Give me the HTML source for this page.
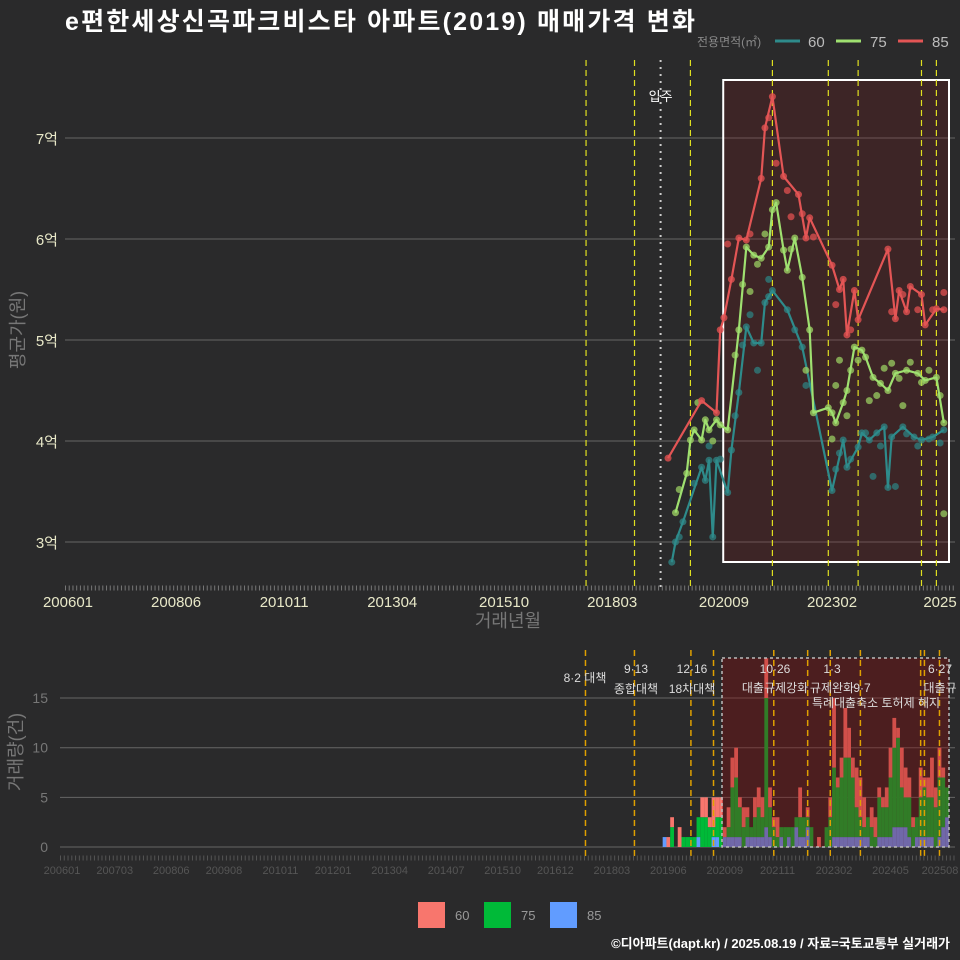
<!DOCTYPE html>
<html><head><meta charset="utf-8">
<style>
body{margin:0;background:#2a2a2b;}
svg{display:block;font-family:"Liberation Sans","Noto Sans CJK KR",sans-serif;}
</style></head>
<body>
<svg id="c" width="960" height="960" viewBox="0 0 960 960">
<rect width="960" height="960" fill="#2a2a2b"/>
<text x="65" y="30" fill="#fff" font-size="25" font-weight="bold" textLength="630">e편한세상신곡파크비스타 아파트(2019) 매매가격 변화</text>
<g>
<text x="697" y="46" fill="#888" font-size="12">전용면적(㎡)</text>
<line x1="775" y1="41" x2="800" y2="41" stroke="#2E8B8B" stroke-width="3"/>
<text x="808" y="47" fill="#bbb" font-size="15">60</text>
<line x1="836" y1="41" x2="861" y2="41" stroke="#9FE070" stroke-width="3"/>
<text x="870" y="47" fill="#bbb" font-size="15">75</text>
<line x1="898" y1="41" x2="923" y2="41" stroke="#E35555" stroke-width="3"/>
<text x="932" y="47" fill="#bbb" font-size="15">85</text>
</g>
<text transform="translate(24,330) rotate(-90)" text-anchor="middle" fill="#777" font-size="18">평균가(원)</text>
<text x="508" y="627" text-anchor="middle" fill="#777" font-size="18">거래년월</text>
<text transform="translate(22,752) rotate(-90)" text-anchor="middle" fill="#777" font-size="18">거래량(건)</text>
<g id="gtop"></g>
<g id="gbot"></g>
<g>
<rect x="418" y="902" width="27" height="26" fill="#F8766D"/>
<text x="455" y="920" fill="#999" font-size="13">60</text>
<rect x="484" y="902" width="27" height="26" fill="#00BA38"/>
<text x="521" y="920" fill="#999" font-size="13">75</text>
<rect x="550" y="902" width="27" height="26" fill="#619CFF"/>
<text x="587" y="920" fill="#999" font-size="13">85</text>
</g>
<text x="950" y="948" text-anchor="end" fill="#fff" font-size="13" font-weight="bold">©디아파트(dapt.kr) / 2025.08.19 / 자료=국토교통부 실거래가</text>
</svg>
<script>
// ---- data ----
const yTicks = [3,4,5,6,7];
const yTickLabels = ["3억","4억","5억","6억","7억"];
const xTickMonths = ["2006-01","2008-06","2010-11","2013-04","2015-10","2018-03","2020-09","2023-02","2025-08"];
const xTickLabels = ["200601","200806","201011","201304","201510","201803","202009","202302","2025"];
const d85 = ["2019-06","2020-03","2020-07","2020-08","2020-09","2020-11","2021-01","2021-03","2021-07","2021-08","2021-10","2022-01","2022-05","2022-07","2022-08","2023-02","2023-04","2023-05","2023-06","2023-08","2023-09","2024-05","2024-07","2024-08","2024-10","2024-11","2025-02","2025-03","2025-06","2025-08"];
const v85 = [3.83,4.40,4.28,5.10,5.22,5.60,6.01,5.99,6.60,7.10,7.41,6.62,6.44,6.01,6.21,5.74,5.50,5.60,5.05,5.49,5.20,5.90,5.21,5.49,5.28,5.53,5.45,5.15,5.31,5.30];
const d75 = ["2019-08","2019-11","2019-12","2020-01","2020-03","2020-04","2020-05","2020-07","2020-08","2020-10","2021-01","2021-03","2021-05","2021-07","2021-09","2021-10","2021-11","2022-01","2022-02","2022-04","2022-06","2022-08","2022-09","2023-01","2023-02","2023-03","2023-05","2023-06","2023-08","2023-10","2023-11","2024-01","2024-03","2024-05","2024-07","2024-10","2025-01","2025-03","2025-06","2025-08"];
const v75 = [3.29,3.68,4.01,4.11,4.01,4.21,4.11,4.21,4.16,4.11,5.10,5.92,5.84,5.81,5.92,6.29,6.36,5.89,5.69,6.01,5.62,5.10,4.28,4.33,4.28,4.18,4.38,4.50,4.93,4.90,4.83,4.63,4.57,4.50,4.67,4.70,4.67,4.60,4.63,4.18];
const d60 = ["2019-07","2019-08","2019-10","2020-03","2020-04","2020-05","2020-06","2020-07","2020-10","2020-11","2021-01","2021-03","2021-05","2021-07","2021-08","2021-09","2021-10","2022-02","2022-06","2023-02","2023-05","2023-06","2023-09","2023-10","2023-12","2024-02","2024-04","2024-05","2024-06","2024-09","2024-12","2025-02","2025-05","2025-08"];
const v60 = [2.80,3.00,3.20,3.74,3.61,3.81,3.05,3.81,3.49,3.91,4.48,5.13,4.97,4.97,5.37,5.43,5.49,5.30,4.93,3.51,4.01,3.74,3.94,4.08,4.01,4.08,4.14,3.54,4.04,4.14,4.04,4.01,4.04,4.11];
const s75d = ["2019-09","2020-02","2020-06","2020-12","2021-02","2021-04","2021-06","2021-08","2022-03","2022-07","2023-02","2023-03","2023-04","2023-06","2023-07","2023-09","2023-12","2024-02","2024-04","2024-06","2024-08","2024-09","2024-11","2025-02","2025-04","2025-07","2025-08"];
const s75v = [3.52,4.38,4.00,4.85,5.55,5.48,5.75,6.05,5.90,4.70,4.02,4.55,4.80,4.25,4.70,4.80,4.40,4.45,4.72,4.77,4.62,4.35,4.78,4.58,4.70,4.45,3.28];
const s60d = ["2019-09","2020-01","2020-05","2020-08","2020-12","2021-02","2021-04","2021-06","2021-09","2022-04","2022-07","2023-03","2023-04","2023-07","2023-11","2024-01","2024-03","2024-07","2024-10","2025-01","2025-04","2025-07"];
const s60v = [3.05,3.58,3.95,3.82,4.25,4.95,5.25,4.70,5.60,5.10,4.55,3.72,3.88,3.82,4.08,3.65,3.95,3.55,4.07,3.95,4.02,3.98];
const s85d = ["2020-10","2021-04","2021-09","2021-11","2022-02","2022-03","2022-06","2022-09","2023-03","2023-07","2024-06","2024-09","2025-01","2025-05","2025-08"];
const s85v = [5.95,6.05,7.20,6.75,6.48,6.22,6.25,6.02,5.35,5.10,5.28,5.45,5.30,5.30,5.47];
const barStart = "2019-05";
const b60 = [0,1,1,0,2,0,0,0,0,0,2,2,1,3,2,2,1,2,3,3,1,2,1,0,2,2,2,4,2,1,2,0,0,0,0,0,3,0,1,0,0,1,0,0,2,7,1,2,5,3,2,4,4,3,0,2,2,1,1,2,3,3,1,4,3,2,1,0,3,1,2,4,2,3,1,0];
const b75 = [0,0,2,0,0,1,1,1,1,2,3,3,2,1,2,3,0,1,5,6,3,2,2,1,2,3,2,13,3,2,1,1,2,1,2,1,2,2,1,2,0,0,0,2,3,7,5,6,8,8,6,3,2,1,2,2,1,4,3,3,6,8,9,4,3,4,2,2,4,5,4,4,4,6,5,3];
const b85 = [1,0,0,0,0,0,0,0,0,1,0,0,0,1,1,0,1,1,1,1,1,0,1,1,1,1,1,2,1,0,0,1,0,1,0,2,1,1,2,0,0,0,0,0,0,1,1,1,1,1,1,1,1,1,1,0,0,1,1,1,1,2,2,2,2,1,0,1,1,1,1,1,0,1,2,3];
const botTickLabels = ["200601","200703","200806","200908","201011","201201","201304","201407","201510","201612","201803","201906","202009","202111","202302","202405","202508"];
const policyMonths = ["2017-08","2018-09","2019-12","2020-06","2021-10","2022-07","2023-01","2023-09","2025-01","2025-02","2025-06"];

// ---- scales ----
const NS="http://www.w3.org/2000/svg";
function mi(s){const [y,m]=s.split("-").map(Number);return (y-2006)*12+(m-1);}
function xT(m){return 68+3.727*m;}
function yT(v){return 138+(7-v)*101;}
function xB(m){return 62+3.766*m;}
function yB(v){return 847-v*9.93;}
function el(tag,attrs,parent){const e=document.createElementNS(NS,tag);for(const k in attrs)e.setAttribute(k,attrs[k]);parent.appendChild(e);return e;}
const gTop=document.getElementById('gtop'), gBot=document.getElementById('gbot');

yTicks.forEach((v,i)=>{
  const g=el('line',{x1:65,x2:955,y1:yT(v),y2:yT(v),stroke:'#666','stroke-width':1},gTop);
  
  
  const t=el('text',{x:58,y:yT(v)+6,'text-anchor':'end',fill:'#e8e8c8','font-size':15},gTop);
  t.textContent=yTickLabels[i];
  
  
});
const ovx=xT(mi("2020-08"))+3;
const ov=el('rect',{x:ovx,y:80,width:949-ovx,height:482,fill:'rgba(139,20,20,0.2)',stroke:'#fff','stroke-width':2},gTop);


["2017-08","2018-09","2019-12","2021-10","2023-01","2023-09","2025-02","2025-06"].forEach(d=>{
  const l=el('line',{x1:xT(mi(d)),x2:xT(mi(d)),y1:60,y2:587,stroke:'#e0e020','stroke-width':1.2,'stroke-dasharray':'6,4'},gTop);
  
  
});
const mv=el('line',{x1:xT(mi("2019-04")),x2:xT(mi("2019-04")),y1:60,y2:587,stroke:'#ccc','stroke-width':2,'stroke-dasharray':'2,5'},gTop);


const mvt=el('text',{x:xT(mi("2019-04")),y:101,'text-anchor':'middle',fill:'#fff','font-size':13},gTop);
mvt.textContent='입주';


const tk=el('line',{x1:65,x2:955,y1:588,y2:588,stroke:'#777','stroke-width':5,'stroke-dasharray':'1,2.73'},gTop);


xTickMonths.forEach((d,i)=>{
  const t=el('text',{x:Math.min(xT(mi(d)),940),y:607,'text-anchor':'middle',fill:'#e8e8c8','font-size':15},gTop);
  t.textContent=xTickLabels[i];
  
  
});
function series(dates,vals,sd,sv,col,dot,name){
  sd.forEach((d,i)=>{
    const c=el('circle',{cx:xT(mi(d)),cy:yT(sv[i]),r:3.5,fill:dot,'fill-opacity':0.75},gTop);
    
    
  });
  dates.forEach((d,i)=>{
    const c=el('circle',{cx:xT(mi(d)),cy:yT(vals[i]),r:3.5,fill:dot,'fill-opacity':0.8},gTop);
    
    
  });
  const p=el('polyline',{points:dates.map((d,i)=>xT(mi(d))+','+yT(vals[i])).join(' '),fill:'none',stroke:col,'stroke-width':2.2,'stroke-linejoin':'round'},gTop);
  
  
}
series(d60,v60,s60d,s60v,'#2E8B8B','#2E8080','60');
series(d75,v75,s75d,s75v,'#9FE070','#9ACD62','75');
series(d85,v85,s85d,s85v,'#E35555','#E05050','85');

[0,5,10,15].forEach(v=>{
  const g=el('line',{x1:60,x2:955,y1:yB(v),y2:yB(v),stroke:'#666','stroke-width':1},gBot);
  
  
  const t=el('text',{x:48,y:yB(v)+5,'text-anchor':'end',fill:'#777','font-size':14},gBot);
  t.textContent=String(v);
  
  
});
const s0=mi(barStart);
b60.forEach((_,i)=>{
  const x=xB(s0+i)-1.9;
  let base=0;
  [[b85[i],'#619CFF'],[b75[i],'#00BA38'],[b60[i],'#F8766D']].forEach(([v,c])=>{
    if(v>0){
      const r=el('rect',{x:x,y:yB(base+v),width:3.8,height:v*9.93,fill:c},gBot);
      
      
    }
    base+=v;
  });
});
const ov2=el('rect',{x:722,y:658,width:227,height:189,fill:'rgba(139,10,10,0.35)',stroke:'#bbb','stroke-width':1.5,'stroke-dasharray':'3,3'},gBot);


policyMonths.forEach(d=>{
  const l=el('line',{x1:xB(mi(d)),x2:xB(mi(d)),y1:650,y2:858,stroke:'#e0a000','stroke-width':1.5,'stroke-dasharray':'6,4'},gBot);
  
  
});
const labs=[[585,682,'8·2 대책'],[636,673,'9·13'],[636,693,'종합대책'],[692,673,'12·16'],[692,693,'18차대책'],[775,673,'10·26'],[775,692,'대출규제강화'],[832,673,'1·3'],[832,692,'규제완화'],[862,692,'9·7'],[876,707,'특례대출축소 토허제 해지'],[940,673,'6·27'],[940,692,'대출규']];
labs.forEach(([x,y,s])=>{
  const t=el('text',{x:x,y:y,'text-anchor':'middle',fill:'#ddd','font-size':12},gBot);
  t.textContent=s;
  
  
});
const tk2=el('line',{x1:60,x2:955,y1:858,y2:858,stroke:'#555','stroke-width':5,'stroke-dasharray':'1,2.77'},gBot);


botTickLabels.forEach((s)=>{
  const m=(Number(s.slice(0,4))-2006)*12+Number(s.slice(4))-1;
  const t=el('text',{x:Math.min(xB(m),940),y:874,'text-anchor':'middle',fill:'#555','font-size':11},gBot);
  t.textContent=s;
  
  
});
</script>
</body></html>
